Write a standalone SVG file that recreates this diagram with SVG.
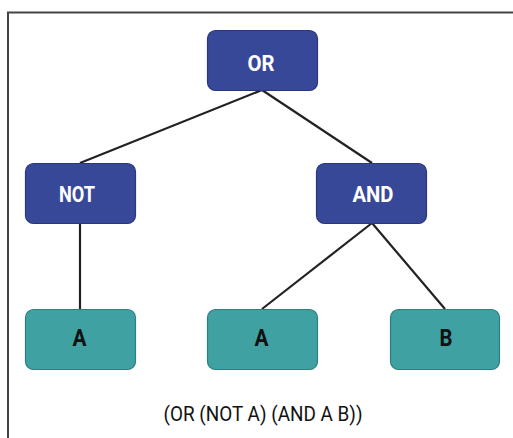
<svg xmlns="http://www.w3.org/2000/svg" width="513" height="438" viewBox="0 0 513 438">
<style>
.op rect{fill:#384898;stroke:#2a3780;stroke-width:1.2}
.lf rect{fill:#3fa1a2;stroke:#2e7f80;stroke-width:1.2}
.op text{fill:#ffffff;font-family:Roboto,"Liberation Sans",sans-serif;font-weight:bold;font-size:22px;text-anchor:middle}
.lf text{fill:#111111;font-family:Roboto,"Liberation Sans",sans-serif;font-weight:bold;font-size:23px;text-anchor:middle}
#connectors line{stroke:#222222;stroke-width:2.2}
.cap{fill:#111111;font-family:Roboto,"Liberation Sans",sans-serif;font-size:21px;text-anchor:middle}
</style>
<rect width="513" height="438" fill="#ffffff"/>
<path d="M8,438 V12.5 H513" fill="none" stroke="#444444" stroke-width="2"/>
<g id="connectors">
<line x1="262" y1="90" x2="80" y2="163"/>
<line x1="262" y1="90" x2="372" y2="163"/>
<line x1="80" y1="223" x2="80" y2="309"/>
<line x1="372" y1="223" x2="262" y2="309"/>
<line x1="372" y1="223" x2="445" y2="309"/>
</g>
<g id="node-or" class="op"><rect x="207.5" y="30.5" width="110" height="60" rx="8"/><text x="261" y="71" textLength="27" lengthAdjust="spacingAndGlyphs">OR</text></g>
<g id="node-not" class="op"><rect x="25.5" y="163.5" width="110" height="60" rx="8"/><text x="77" y="202" textLength="36" lengthAdjust="spacingAndGlyphs">NOT</text></g>
<g id="node-and" class="op"><rect x="316.5" y="163.5" width="110" height="60" rx="8"/><text x="373" y="202" textLength="41" lengthAdjust="spacingAndGlyphs">AND</text></g>
<g id="node-a1" class="lf"><rect x="25.5" y="309.5" width="110" height="60" rx="8"/><text x="79.5" y="346" textLength="14" lengthAdjust="spacingAndGlyphs">A</text></g>
<g id="node-a2" class="lf"><rect x="207.5" y="309.5" width="110" height="60" rx="8"/><text x="261.5" y="346" textLength="14" lengthAdjust="spacingAndGlyphs">A</text></g>
<g id="node-b" class="lf"><rect x="390.5" y="309.5" width="109" height="60" rx="8"/><text x="446" y="346" textLength="13" lengthAdjust="spacingAndGlyphs">B</text></g>
<text class="cap" x="263" y="421" textLength="199" lengthAdjust="spacingAndGlyphs">(OR (NOT A) (AND A B))</text>
</svg>
